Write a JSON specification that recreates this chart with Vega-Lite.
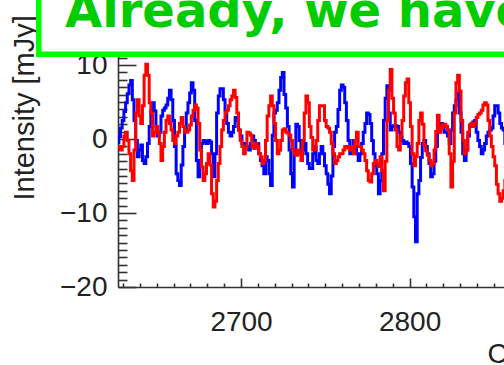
{
"$schema": "https://vega.github.io/schema/vega-lite/v6.json",
"width": 386, "height": 259,
"autosize": {"type": "none"},
"padding": {"left": 118, "top": 28, "right": 0, "bottom": 78},
"background": "white",
"config": {"view": {"stroke": null}},
"data": {"values": [
{"c":2627,"b":-0.5,"r":-1.0},{"c":2628,"b":0.35,"r":-1.0},{"c":2629,"b":1.5,"r":-1.5},{"c":2630,"b":2.5,"r":-1.0},{"c":2631,"b":3.7,"r":0.4},{"c":2632,"b":4.9,"r":0.9},{"c":2633,"b":6.1,"r":-0.2},{"c":2634,"b":7.3,"r":-2.0},{"c":2635,"b":7.9,"r":-4.3},{"c":2636,"b":5.3,"r":-5.6},
{"c":2637,"b":2.5,"r":-1.5},{"c":2638,"b":-0.2,"r":3.5},{"c":2639,"b":-2.4,"r":5.3},{"c":2640,"b":-1.5,"r":3.1},{"c":2641,"b":-0.8,"r":2.1},{"c":2642,"b":-2.9,"r":4.5},{"c":2643,"b":-3.3,"r":8.6},{"c":2644,"b":-2.4,"r":10.1},{"c":2645,"b":-0.6,"r":8.6},{"c":2646,"b":1.7,"r":4.9},
{"c":2647,"b":3.8,"r":3.5},{"c":2648,"b":4.9,"r":0.4},{"c":2649,"b":3.8,"r":0.9},{"c":2650,"b":1.7,"r":1.7},{"c":2651,"b":0.4,"r":0.9},{"c":2652,"b":0.9,"r":-0.6},{"c":2653,"b":3.1,"r":-2.9},{"c":2654,"b":3.9,"r":-1.0},{"c":2655,"b":4.2,"r":0.9},{"c":2656,"b":4.6,"r":2.5},
{"c":2657,"b":5.5,"r":3.1},{"c":2658,"b":6.6,"r":2.1},{"c":2659,"b":5.3,"r":1.2},{"c":2660,"b":2.5,"r":-0.2},{"c":2661,"b":-1.0,"r":-0.6},{"c":2662,"b":-4.7,"r":0.4},{"c":2663,"b":-5.6,"r":0.9},{"c":2664,"b":-6.3,"r":2.1},{"c":2665,"b":-3.5,"r":2.9},{"c":2666,"b":-1.0,"r":1.7},
{"c":2667,"b":1.2,"r":0.9},{"c":2668,"b":3.5,"r":0.9},{"c":2669,"b":4.9,"r":1.2},{"c":2670,"b":6.2,"r":1.9},{"c":2671,"b":7.6,"r":3.1},{"c":2672,"b":6.6,"r":3.9},{"c":2673,"b":2.5,"r":4.6},{"c":2674,"b":-2.9,"r":4.2},{"c":2675,"b":-5.1,"r":2.1},{"c":2676,"b":-2.9,"r":-1.5},
{"c":2677,"b":-0.6,"r":-3.8},{"c":2678,"b":-0.2,"r":-5.6},{"c":2679,"b":-0.4,"r":-4.7},{"c":2680,"b":-0.6,"r":-3.3},{"c":2681,"b":-0.2,"r":-2.0},{"c":2682,"b":-0.4,"r":-3.5},{"c":2683,"b":-2.0,"r":-7.4},{"c":2684,"b":-5.1,"r":-9.2},{"c":2685,"b":-2.0,"r":-8.4},{"c":2686,"b":3.5,"r":-5.6},
{"c":2687,"b":5.8,"r":-3.3},{"c":2688,"b":6.8,"r":-1.0},{"c":2689,"b":6.8,"r":1.2},{"c":2690,"b":5.3,"r":2.5},{"c":2691,"b":3.9,"r":3.5},{"c":2692,"b":2.1,"r":3.9},{"c":2693,"b":0.9,"r":4.5},{"c":2694,"b":0.4,"r":5.3},{"c":2695,"b":0.9,"r":5.8},{"c":2696,"b":1.7,"r":6.6},
{"c":2697,"b":2.9,"r":5.6},{"c":2698,"b":2.5,"r":3.5},{"c":2699,"b":1.2,"r":1.2},{"c":2700,"b":0.4,"r":-0.2},{"c":2701,"b":-0.6,"r":-1.0},{"c":2702,"b":-0.6,"r":-2.0},{"c":2703,"b":-1.0,"r":-1.2},{"c":2704,"b":-1.0,"r":0.9},{"c":2705,"b":-1.5,"r":0.8},{"c":2706,"b":-0.6,"r":0.5},
{"c":2707,"b":0.4,"r":-1.0},{"c":2708,"b":-0.2,"r":-1.3},{"c":2709,"b":-1.0,"r":-0.6},{"c":2710,"b":-0.6,"r":-1.0},{"c":2711,"b":-2.0,"r":-2.0},{"c":2712,"b":-2.9,"r":-2.4},{"c":2713,"b":-3.6,"r":-3.3},{"c":2714,"b":-4.7,"r":-2.9},{"c":2715,"b":-2.4,"r":-0.2},{"c":2716,"b":-2.9,"r":3.1},
{"c":2717,"b":-4.7,"r":4.5},{"c":2718,"b":-6.3,"r":5.8},{"c":2719,"b":0.5,"r":4.5},{"c":2720,"b":3.5,"r":2.1},{"c":2721,"b":3.9,"r":-0.2},{"c":2722,"b":4.9,"r":-2.0},{"c":2723,"b":6.6,"r":-1.5},{"c":2724,"b":8.3,"r":-0.2},{"c":2725,"b":9.0,"r":1.2},{"c":2726,"b":6.0,"r":1.4},
{"c":2727,"b":4.2,"r":0.9},{"c":2728,"b":1.7,"r":0.8},{"c":2729,"b":-1.5,"r":0.5},{"c":2730,"b":-4.7,"r":-0.2},{"c":2731,"b":-6.5,"r":-1.5},{"c":2732,"b":-1.5,"r":-2.0},{"c":2733,"b":2.0,"r":-2.2},{"c":2734,"b":1.7,"r":-1.5},{"c":2735,"b":-0.2,"r":-2.0},{"c":2736,"b":-2.0,"r":-2.9},
{"c":2737,"b":-1.5,"r":-0.2},{"c":2738,"b":-0.6,"r":3.5},{"c":2739,"b":-2.0,"r":5.8},{"c":2740,"b":-3.3,"r":4.9},{"c":2741,"b":-4.0,"r":1.7},{"c":2742,"b":-4.0,"r":0.2},{"c":2743,"b":-2.0,"r":-1.5},{"c":2744,"b":-1.0,"r":-1.5},{"c":2745,"b":-2.9,"r":-0.2},{"c":2746,"b":-3.3,"r":2.5},
{"c":2747,"b":-2.0,"r":4.5},{"c":2748,"b":-1.0,"r":4.5},{"c":2749,"b":-2.0,"r":4.5},{"c":2750,"b":-3.6,"r":2.5},{"c":2751,"b":-4.7,"r":1.7},{"c":2752,"b":-6.1,"r":1.5},{"c":2753,"b":-7.4,"r":0.9},{"c":2754,"b":-5.0,"r":-0.6},{"c":2755,"b":-1.0,"r":-2.0},{"c":2756,"b":0.9,"r":-3.3},
{"c":2757,"b":1.7,"r":-2.9},{"c":2758,"b":4.0,"r":-2.4},{"c":2759,"b":6.6,"r":-2.0},{"c":2760,"b":7.3,"r":-2.0},{"c":2761,"b":7.0,"r":-1.5},{"c":2762,"b":4.9,"r":-1.0},{"c":2763,"b":2.5,"r":-1.2},{"c":2764,"b":-0.2,"r":-1.0},{"c":2765,"b":-2.0,"r":-1.5},{"c":2766,"b":-1.5,"r":-1.0},
{"c":2767,"b":-0.2,"r":-2.0},{"c":2768,"b":-1.0,"r":-0.2},{"c":2769,"b":-2.0,"r":0.9},{"c":2770,"b":-2.9,"r":-1.0},{"c":2771,"b":-2.0,"r":-1.0},{"c":2772,"b":-0.6,"r":-1.5},{"c":2773,"b":0.9,"r":-2.0},{"c":2774,"b":2.1,"r":-2.9},{"c":2775,"b":3.5,"r":-4.3},{"c":2776,"b":3.3,"r":-5.6},
{"c":2777,"b":2.1,"r":-5.8},{"c":2778,"b":-0.2,"r":-4.7},{"c":2779,"b":-2.0,"r":-3.3},{"c":2780,"b":-3.6,"r":-2.9},{"c":2781,"b":-4.7,"r":-3.3},{"c":2782,"b":-7.4,"r":-3.7},{"c":2783,"b":-5.6,"r":-2.4},{"c":2784,"b":-2.0,"r":-4.3},{"c":2785,"b":2.5,"r":-7.0},{"c":2786,"b":5.5,"r":-3.0},
{"c":2787,"b":7.2,"r":2.5},{"c":2788,"b":3.5,"r":6.6},{"c":2789,"b":1.2,"r":9.4},{"c":2790,"b":1.7,"r":5.5},{"c":2791,"b":1.8,"r":3.5},{"c":2792,"b":1.8,"r":1.2},{"c":2793,"b":1.7,"r":-1.0},{"c":2794,"b":0.9,"r":-1.5},{"c":2795,"b":0.2,"r":0.4},{"c":2796,"b":-0.2,"r":2.5},
{"c":2797,"b":-0.6,"r":5.8},{"c":2798,"b":-0.4,"r":7.6},{"c":2799,"b":-0.6,"r":8.1},{"c":2800,"b":-1.0,"r":4.9},{"c":2801,"b":-3.3,"r":1.7},{"c":2802,"b":-6.5,"r":-2.0},{"c":2803,"b":-10.5,"r":-3.6},{"c":2804,"b":-13.9,"r":-2.4},{"c":2805,"b":-7.4,"r":-0.6},{"c":2806,"b":-5.6,"r":2.5},
{"c":2807,"b":-2.5,"r":3.5},{"c":2808,"b":-0.6,"r":2.0},{"c":2809,"b":-0.2,"r":-0.8},{"c":2810,"b":-1.0,"r":-1.6},{"c":2811,"b":-2.0,"r":-2.2},{"c":2812,"b":-3.3,"r":-2.9},{"c":2813,"b":-5.1,"r":-3.6},{"c":2814,"b":-4.7,"r":-3.3},{"c":2815,"b":-3.0,"r":-1.5},{"c":2816,"b":-1.0,"r":1.0},
{"c":2817,"b":0.9,"r":3.2},{"c":2818,"b":1.2,"r":0.9},{"c":2819,"b":2.1,"r":1.5},{"c":2820,"b":1.8,"r":1.9},{"c":2821,"b":0.9,"r":2.0},{"c":2822,"b":1.0,"r":1.7},{"c":2823,"b":0.4,"r":1.2},{"c":2824,"b":-0.6,"r":-2.0},{"c":2825,"b":1.2,"r":-6.5},{"c":2826,"b":3.5,"r":-3.0},
{"c":2827,"b":4.5,"r":3.5},{"c":2828,"b":5.3,"r":7.6},{"c":2829,"b":6.2,"r":8.6},{"c":2830,"b":3.5,"r":6.5},{"c":2831,"b":0.9,"r":2.5},{"c":2832,"b":-2.0,"r":-0.2},{"c":2833,"b":-2.9,"r":-2.0},{"c":2834,"b":-1.5,"r":-1.5},{"c":2835,"b":0.4,"r":0.9},{"c":2836,"b":1.7,"r":1.9},
{"c":2837,"b":2.1,"r":2.1},{"c":2838,"b":2.3,"r":1.7},{"c":2839,"b":2.5,"r":2.1},{"c":2840,"b":0.9,"r":2.9},{"c":2841,"b":-0.2,"r":3.3},{"c":2842,"b":-1.0,"r":3.5},{"c":2843,"b":-2.0,"r":3.9},{"c":2844,"b":-1.5,"r":4.6},{"c":2845,"b":-0.6,"r":4.9},{"c":2846,"b":0.4,"r":4.6},
{"c":2847,"b":0.9,"r":2.5},{"c":2848,"b":1.2,"r":0.4},{"c":2849,"b":1.5,"r":-1.0},{"c":2850,"b":3.1,"r":-2.4},{"c":2851,"b":4.5,"r":-3.6},{"c":2852,"b":4.5,"r":-6.1},{"c":2853,"b":3.5,"r":-7.4},{"c":2854,"b":2.1,"r":-8.4},{"c":2855,"b":1.5,"r":-8.0},{"c":2856,"b":1.2,"r":-7.0},
{"c":2857,"b":-0.6,"r":-5.6}
]},
"layer": [
{
"transform": [{"fold": ["b", "r"], "as": ["s", "v"]}],
"mark": {"type": "line", "interpolate": "step", "strokeWidth": 3, "clip": true},
"encoding": {
"x": {"field": "c", "type": "quantitative",
 "scale": {"domain": [2627, 2856], "nice": false, "zero": false},
 "axis": {
  "values": [2630,2640,2650,2660,2670,2680,2690,2700,2710,2720,2730,2740,2750,2760,2770,2780,2790,2800,2810,2820,2830,2840,2850],
  "tickCount": 200,
  "tickSize": {"condition": {"test": "datum.value % 100 === 0", "value": -9}, "value": -4},
  "labelExpr": "datum.value % 100 === 0 ? '' + datum.value : ''",
  "labelPadding": 30, "labelOverlap": false, "labelBound": false, "labelFlush": false,
  "labelFont": "Liberation Sans", "labelFontSize": 28, "labelColor": "#222",
  "grid": false, "domainColor": "#333", "domainWidth": 1.6, "tickColor": "#333", "tickWidth": 1.6,
  "title": "Channel", "titleFont": "Liberation Sans", "titleFontSize": 28, "titleFontWeight": "normal", "titleColor": "#222",
  "titleX": 369, "titleY": 75, "titleAlign": "left", "titleBaseline": "alphabetic", "titleAnchor": "start"
 }},
"y": {"field": "v", "type": "quantitative",
 "scale": {"domain": [-20, 15], "nice": false, "zero": false},
 "axis": {
  "values": [-20,-19,-18,-17,-16,-15,-14,-13,-12,-11,-10,-9,-8,-7,-6,-5,-4,-3,-2,-1,0,1,2,3,4,5,6,7,8,9,10,11,12,13,14,15],
  "tickCount": 200,
  "tickSize": {"condition": {"test": "datum.value % 10 === 0", "value": -18}, "value": -9},
  "labelExpr": "datum.value % 10 === 0 ? (datum.value < 0 ? '\u2212' + abs(datum.value) : '' + datum.value) : ''",
  "labelPadding": 29, "labelOverlap": false, "labelBound": false, "labelFlush": false,
  "labelFont": "Liberation Sans", "labelFontSize": 28, "labelColor": "#222",
  "grid": false, "domainColor": "#333", "domainWidth": 1.6, "tickColor": "#333", "tickWidth": 1.6,
  "title": "Intensity [mJy]", "titleFont": "Liberation Sans", "titleFontSize": 29, "titleFontWeight": "normal", "titleColor": "#222",
  "titleX": -85, "titleY": 172, "titleAlign": "left", "titleBaseline": "alphabetic", "titleAngle": 270, "titleAnchor": "start"
 }},
"color": {"field": "s", "type": "nominal", "scale": {"domain": ["b", "r"], "range": ["#0000ff", "#ff0000"]}, "legend": null}
}
},
{
"data": {"values": [{}]},
"mark": {"type": "rect", "fill": "white", "stroke": "#00ff00", "strokeWidth": 5.5, "clip": false},
"encoding": {"x": {"datum": 2580}, "x2": {"datum": 2950}, "y": {"datum": 11.46}, "y2": {"datum": 25}}
},
{
"data": {"values": [{}]},
"mark": {"type": "text", "font": "DejaVu Sans", "fontWeight": "bold", "fontSize": 48, "fill": "#00cc00", "align": "left", "baseline": "alphabetic", "clip": false},
"encoding": {"x": {"datum": 2595.6}, "y": {"datum": 15.14}, "text": {"value": "Already, we have"}}
}
]
}
